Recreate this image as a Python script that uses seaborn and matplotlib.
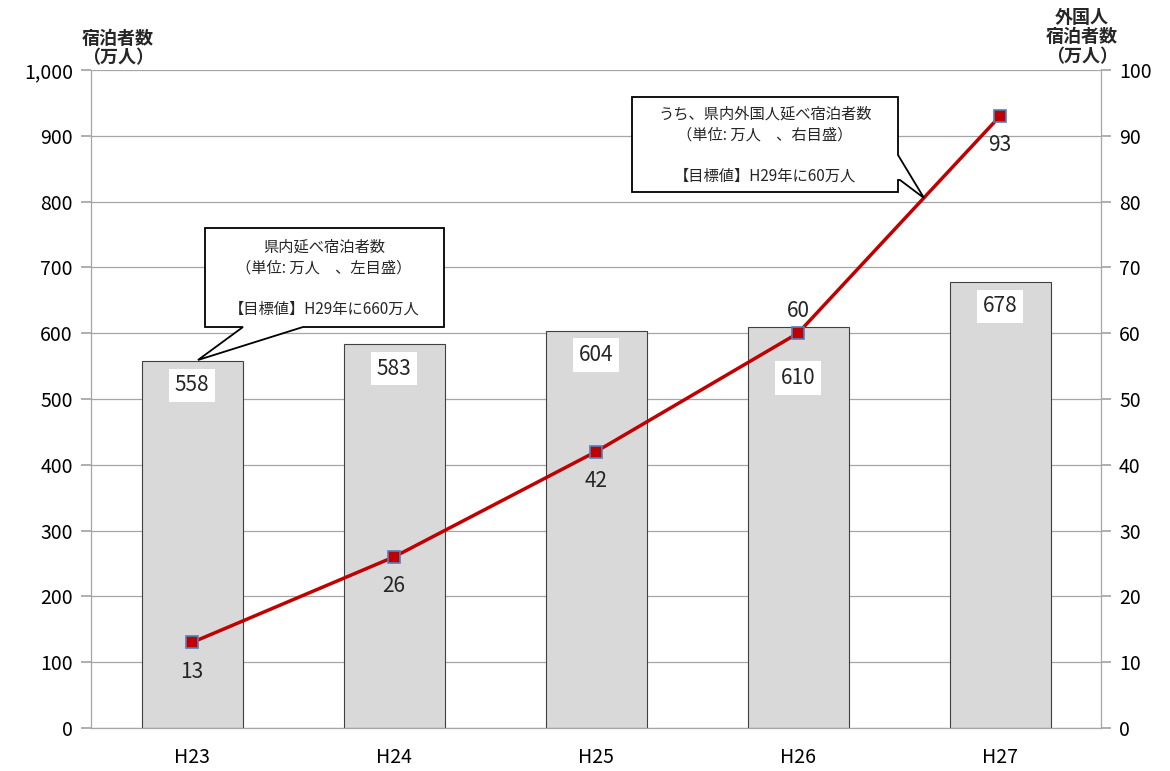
import numpy as np
import pandas as pd
import matplotlib
matplotlib.use("Agg")
import matplotlib.pyplot as plt
from matplotlib.patches import Polygon
import seaborn as sns

# data
years = ["H23", "H24", "H25", "H26", "H27"]
total_stays = [558, 583, 604, 610, 678]
foreign_stays = [13, 26, 42, 60, 93]
foreign_label_pos = ["below", "below", "below", "above", "below"]
# bar label sits lower on H26 so it clears the line marker
total_label_drop = [37, 37, 37, 78, 37]

sns.set_theme(style="white")
plt.rcParams['font.family'] = ['Noto Sans CJK JP', 'DejaVu Sans']

df = pd.DataFrame({"year": years, "total": total_stays, "foreign": foreign_stays})

W, H = 1170, 771
fig = plt.figure(figsize=(11.7, 7.71), dpi=100)
x0, x1, y0, y1 = 91, 1101, 70, 728
ax = fig.add_axes([x0 / W, 1 - y1 / H, (x1 - x0) / W, (y1 - y0) / H])

grid_c = "#a6a6a6"
sns.barplot(data=df, x="year", y="total", ax=ax, color="#d9d9d9", width=0.5,
            edgecolor="#404040", linewidth=0.8, saturation=1, zorder=2)
ax.set_ylim(0, 1000)
ax.set_xlim(-0.5, 4.5)
ax.set_yticks(np.arange(0, 1001, 100))
ax.set_yticklabels([f"{v:,}" for v in range(0, 1001, 100)])
ax.yaxis.grid(True, color=grid_c, linewidth=0.9, zorder=0)
ax.set_axisbelow(True)
ax.set_xlabel("")
ax.set_ylabel("")
ax.spines["top"].set_visible(False)
for s in ["left", "right", "bottom"]:
    ax.spines[s].set_color(grid_c)
    ax.spines[s].set_linewidth(0.9)
ax.tick_params(axis="y", length=7, color=grid_c, labelsize=14, pad=6, labelcolor="black")
ax.tick_params(axis="x", which="major", length=0, labelsize=14, pad=14, labelcolor="black")
ax.set_xticks(np.arange(-0.5, 4.6, 1), minor=True)
ax.tick_params(axis="x", which="minor", length=7, color=grid_c)

for i, (v, d) in enumerate(zip(total_stays, total_label_drop)):
    ax.text(i, v - d, str(v), ha="center", va="center", fontsize=15, zorder=5,
            bbox=dict(facecolor="white", edgecolor="none", pad=4))

ax2 = ax.twinx()
sns.lineplot(data=df, x="year", y="foreign", ax=ax2, color="#c00000", linewidth=2.5,
             marker="s", markersize=9, markerfacecolor="#c00000",
             markeredgecolor="#4f81bd", markeredgewidth=1.2, zorder=4)
ax2.set_ylim(0, 100)
ax2.set_yticks(np.arange(0, 101, 10))
ax2.set_ylabel("")
for s in ["top", "left", "bottom", "right"]:
    ax2.spines[s].set_visible(False)
ax2.tick_params(axis="y", length=7, color=grid_c, labelsize=14, pad=6, labelcolor="black")

for i, (v, p) in enumerate(zip(foreign_stays, foreign_label_pos)):
    off = -21 if p == "below" else 16
    ax2.annotate(str(v), (i, v), xytext=(0, off), textcoords="offset points",
                 ha="center", va="center", fontsize=15)

# axis titles
fig.text(118 / W, 1 - 48 / H, "宿泊者数\n（万人）", ha="center", va="center",
         fontsize=13, fontweight="bold", linespacing=1.05)
fig.text(1082 / W, 1 - 37 / H, "外国人\n宿泊者数\n（万人）", ha="center", va="center",
         fontsize=13, fontweight="bold", linespacing=1.05)


# callouts (pixel coords -> figure fraction)
def fig_pts(pts):
    return [(px / W, 1 - py / H) for px, py in pts]


call1 = [(205, 228), (444, 228), (444, 327), (303, 327), (198, 360), (243, 327), (205, 327)]
call2 = [(632, 97), (898, 97), (898, 155), (924, 198), (900, 180), (898, 180), (898, 192), (632, 192)]
for pts in (call1, call2):
    fig.patches.append(Polygon(fig_pts(pts), closed=True, facecolor="white",
                               edgecolor="black", linewidth=1.3, transform=fig.transFigure,
                               zorder=10))

fig.text(324 / W, 1 - 278 / H,
         "県内延べ宿泊者数\n（単位: 万人　、左目盛）\n\n【目標値】H29年に660万人",
         ha="center", va="center", fontsize=11, color="#262626", linespacing=1.3, zorder=11)
fig.text(765 / W, 1 - 145 / H,
         "うち、県内外国人延べ宿泊者数\n（単位: 万人　、右目盛）\n\n【目標値】H29年に60万人",
         ha="center", va="center", fontsize=11, color="#262626", linespacing=1.3, zorder=11)

fig.savefig("out.png", dpi=100)
